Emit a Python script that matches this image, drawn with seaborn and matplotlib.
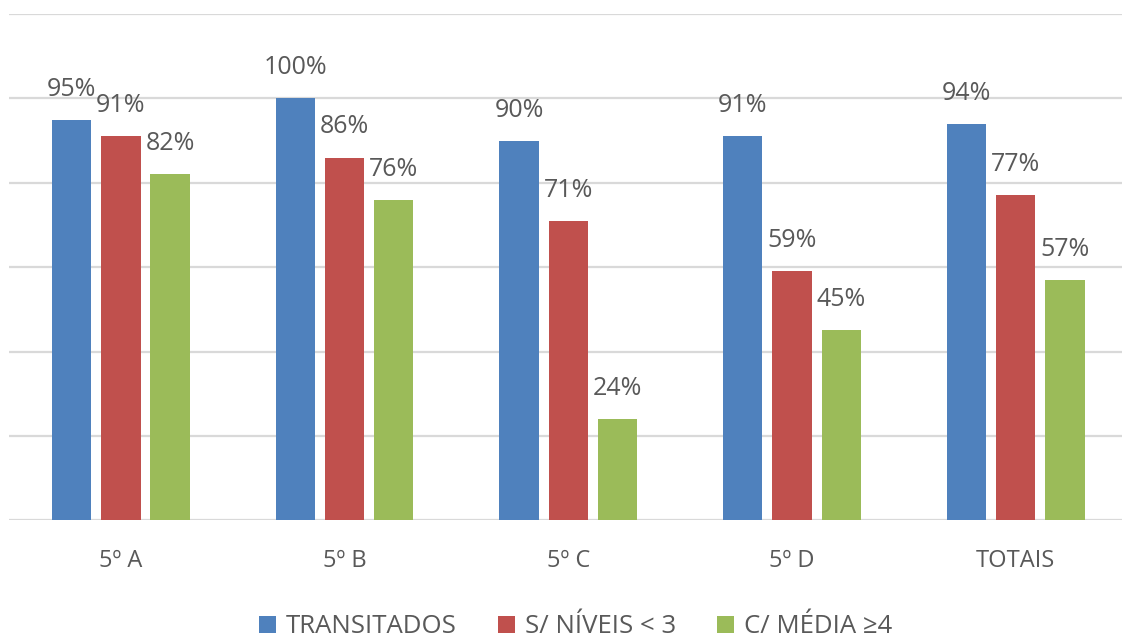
import matplotlib
matplotlib.use("Agg")
import matplotlib.pyplot as plt
import seaborn as sns
import pandas as pd

categories = ["5º A", "5º B", "5º C", "5º D", "TOTAIS"]
series_names = ["TRANSITADOS", "S/ NÍVEIS < 3", "C/ MÉDIA ≥4"]
transitados = [95, 100, 90, 91, 94]
niveis = [91, 86, 71, 59, 77]
media = [82, 76, 24, 45, 57]
colors = ["#4F81BD", "#C0504D", "#9BBB59"]

rows = []
for name, vals in zip(series_names, [transitados, niveis, media]):
    for c, v in zip(categories, vals):
        rows.append({"Turma": c, "Série": name, "Valor": v})
df = pd.DataFrame(rows)

sns.set_theme(style="white")
plt.rcParams["font.family"] = ["Open Sans", "DejaVu Sans"]

fig = plt.figure(figsize=(11.22, 6.43), dpi=100)
ax = fig.add_axes([0.008, 0.191, 0.997, 0.787])

sns.barplot(data=df, x="Turma", y="Valor", hue="Série", order=categories,
            hue_order=series_names, palette=colors, width=0.66, gap=0.2,
            saturation=1, ax=ax, legend=True, edgecolor="none")

ax.set_ylim(0, 120)
ax.set_xlim(-0.5, 4.5)
ax.set_yticks([0, 20, 40, 60, 80, 100, 120])
ax.set_yticklabels([])
ax.tick_params(axis="y", length=0)
ax.yaxis.grid(True, color="#D9D9D9", linewidth=1.6)
ax.set_axisbelow(True)
for s in ax.spines.values():
    s.set_visible(False)
ax.set_xlabel("")
ax.set_ylabel("")
ax.tick_params(axis="x", length=0, pad=21, labelsize=17, labelcolor="#595959")

for cont, vals in zip(ax.containers, [transitados, niveis, media]):
    ax.bar_label(cont, labels=[f"{v}%" for v in vals], padding=13,
                 fontsize=18, color="#595959")

handles, labels = ax.get_legend_handles_labels()
ax.get_legend().remove()
fig.legend(handles, labels, loc="lower center", ncol=3, frameon=False,
           bbox_to_anchor=(0.513, -0.03), fontsize=18.5, labelcolor="#595959",
           handlelength=0.65, handleheight=0.65, handletextpad=0.4,
           columnspacing=1.6)

fig.savefig("out.png", dpi=100)
